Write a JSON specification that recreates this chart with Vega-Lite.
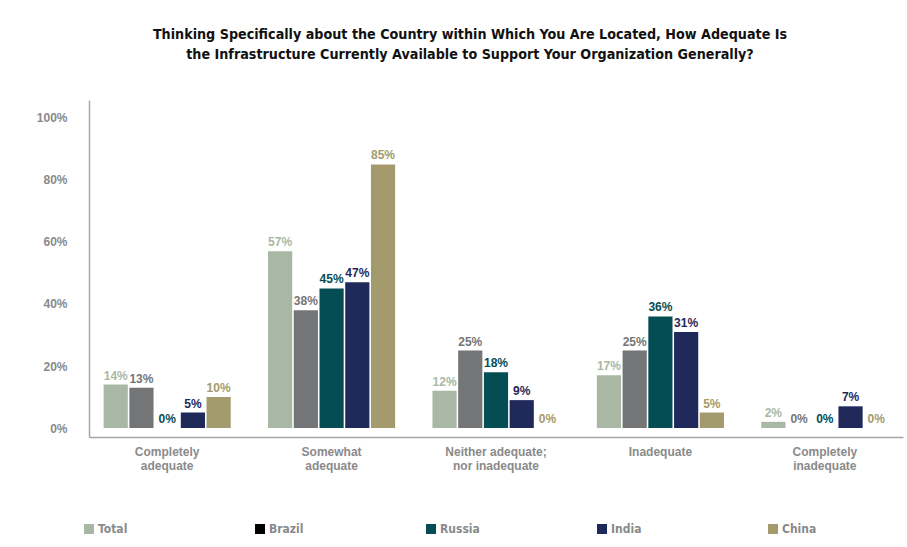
{
  "$schema": "https://vega.github.io/schema/vega-lite/v6.json",
  "autosize": {"type": "none"},
  "width": 814,
  "height": 337,
  "padding": {"left": 89, "top": 100, "right": 4, "bottom": 110},
  "background": "white",
  "title": {
    "text": ["Thinking Specifically about the Country within Which You Are Located, How Adequate Is", "the Infrastructure Currently Available to Support Your Organization Generally?"],
    "anchor": "middle",
    "dx": -26,
    "offset": 38,
    "font": "DejaVu Sans Condensed",
    "fontSize": 14.2,
    "fontWeight": "bold",
    "color": "#111111",
    "lineHeight": 20
  },
  "data": {
    "values": [
      {"category": "Completely adequate", "series": "Total", "value": 14},
      {"category": "Completely adequate", "series": "Brazil", "value": 13},
      {"category": "Completely adequate", "series": "Russia", "value": 0},
      {"category": "Completely adequate", "series": "India", "value": 5},
      {"category": "Completely adequate", "series": "China", "value": 10},
      {"category": "Somewhat adequate", "series": "Total", "value": 57},
      {"category": "Somewhat adequate", "series": "Brazil", "value": 38},
      {"category": "Somewhat adequate", "series": "Russia", "value": 45},
      {"category": "Somewhat adequate", "series": "India", "value": 47},
      {"category": "Somewhat adequate", "series": "China", "value": 85},
      {"category": "Neither adequate; nor inadequate", "series": "Total", "value": 12},
      {"category": "Neither adequate; nor inadequate", "series": "Brazil", "value": 25},
      {"category": "Neither adequate; nor inadequate", "series": "Russia", "value": 18},
      {"category": "Neither adequate; nor inadequate", "series": "India", "value": 9},
      {"category": "Neither adequate; nor inadequate", "series": "China", "value": 0},
      {"category": "Inadequate", "series": "Total", "value": 17},
      {"category": "Inadequate", "series": "Brazil", "value": 25},
      {"category": "Inadequate", "series": "Russia", "value": 36},
      {"category": "Inadequate", "series": "India", "value": 31},
      {"category": "Inadequate", "series": "China", "value": 5},
      {"category": "Completely inadequate", "series": "Total", "value": 2},
      {"category": "Completely inadequate", "series": "Brazil", "value": 0},
      {"category": "Completely inadequate", "series": "Russia", "value": 0},
      {"category": "Completely inadequate", "series": "India", "value": 7},
      {"category": "Completely inadequate", "series": "China", "value": 0}
    ]
  },
  "encoding": {
    "x": {
      "field": "category",
      "type": "nominal",
      "sort": null,
      "title": null,
      "scale": {"paddingInner": 0.227, "paddingOuter": 0.089},
      "axis": {
        "labelAngle": 0,
        "labelExpr": "datum.label == 'Neither adequate; nor inadequate' ? ['Neither adequate;', 'nor inadequate'] : split(datum.label, ' ')",
        "labelFont": "Liberation Sans",
        "labelFontSize": 12,
        "labelFontWeight": "bold",
        "labelColor": "#8a8a8a",
        "labelLineHeight": 14,
        "labelPadding": 9,
        "ticks": false,
        "domainColor": "#a6a6a6",
        "domainWidth": 1.5
      }
    },
    "xOffset": {"field": "series", "type": "nominal", "sort": ["Total", "Brazil", "Russia", "India", "China"], "scale": {"paddingInner": 0.06}},
    "y": {
      "field": "value",
      "type": "quantitative",
      "title": null,
      "scale": {"domain": [-2.9, 105.8], "nice": false, "zero": false},
      "axis": {
        "values": [0, 20, 40, 60, 80, 100],
        "labelExpr": "datum.value + '%'",
        "labelFont": "Liberation Sans",
        "labelFontSize": 12,
        "labelFontWeight": "bold",
        "labelColor": "#8a8a8a",
        "labelPadding": 22,
        "ticks": false,
        "grid": false,
        "domainColor": "#a6a6a6",
        "domainWidth": 1.5
      }
    }
  },
  "layer": [
    {
      "mark": {"type": "bar"},
      "encoding": {
        "y2": {"datum": 0},
        "color": {
          "field": "series",
          "type": "nominal",
          "sort": ["Total", "Brazil", "Russia", "India", "China"],
          "scale": {"domain": ["Total", "Brazil", "Russia", "India", "China"], "range": ["#a9b8a5", "#747577", "#044d55", "#1f2a5a", "#a39b6e"]},
          "legend": null
        }
      }
    },
    {
      "mark": {"type": "point", "shape": "square", "filled": true, "size": 0},
      "encoding": {
        "fill": {
          "field": "series",
          "type": "nominal",
          "sort": ["Total", "Brazil", "Russia", "India", "China"],
          "scale": {"range": ["#a9b8a5", "#000000", "#044d55", "#1f2a5a", "#a39b6e"]},
          "legend": {
            "title": null,
            "orient": "none",
            "legendX": -6,
            "legendY": 423,
            "direction": "horizontal",
            "columns": 5,
            "gridAlign": "all",
            "columnPadding": 116,
            "symbolType": "square",
            "symbolSize": 100,
            "symbolOpacity": 1,
            "symbolStrokeWidth": 0,
            "labelFont": "DejaVu Sans Condensed",
            "labelFontSize": 12,
            "labelFontWeight": "bold",
            "labelColor": "#8a8a8a",
            "labelOffset": 3
          }
        }
      }
    },
    {
      "transform": [{"calculate": "datum.value + '%'", "as": "label"}],
      "mark": {"type": "text", "baseline": "bottom", "dy": -2, "font": "Liberation Sans", "fontSize": 12, "fontWeight": "bold"},
      "encoding": {
        "text": {"field": "label", "type": "nominal"},
        "color": {"field": "series", "type": "nominal", "legend": null}
      }
    }
  ],
  "config": {"view": {"stroke": null}}
}
